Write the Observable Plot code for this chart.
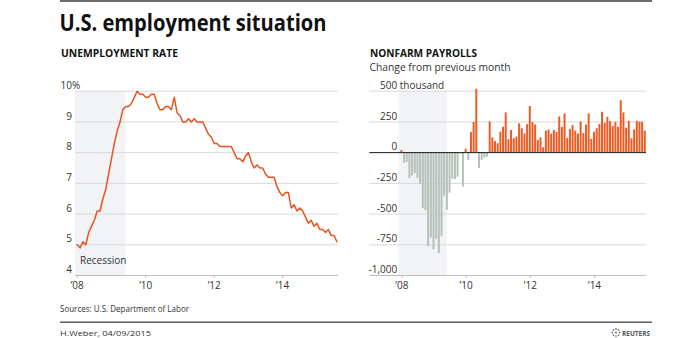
<!DOCTYPE html>
<html><head><meta charset="utf-8">
<script src="https://cdn.jsdelivr.net/npm/d3@7"></script>
<script src="https://cdn.jsdelivr.net/npm/@observablehq/plot@0.6"></script>
<style>
html,body{margin:0;padding:0;background:#fff;}
#root{position:relative;width:692px;height:338px;overflow:hidden;font-family:"Open Sans","Noto Sans",sans-serif;}
#root svg{position:absolute;top:0;}
</style></head><body><div id="root"></div>
<script>
// ---- data ----
const startYear = 2008; // series begin January 2008, monthly
const unemploymentRate = [
  5.0, 4.9, 5.1, 5.0, 5.4, 5.6, 5.8, 6.1, 6.1, 6.5, 6.8, 7.3,
  7.8, 8.3, 8.7, 9.0, 9.4, 9.5, 9.5, 9.6, 9.8, 10.0, 9.9, 9.9,
  9.8, 9.8, 9.9, 9.9, 9.6, 9.4, 9.4, 9.5, 9.5, 9.4, 9.8, 9.3,
  9.2, 9.0, 9.0, 9.1, 9.0, 9.1, 9.0, 9.0, 9.0, 8.8, 8.6, 8.5,
  8.3, 8.3, 8.2, 8.2, 8.2, 8.2, 8.2, 8.0, 7.8, 7.8, 7.7, 7.9,
  8.0, 7.7, 7.5, 7.6, 7.5, 7.5, 7.3, 7.2, 7.2, 7.2, 6.9, 6.7,
  6.6, 6.7, 6.7, 6.2, 6.3, 6.1, 6.2, 6.1, 5.9, 5.7, 5.8, 5.6,
  5.7, 5.5, 5.5, 5.4, 5.5, 5.3, 5.3, 5.1
];
const payrollChange = [
  17, -86, -80, -210, -190, -170, -210, -260, -455, -475, -765, -695,
  -790, -705, -820, -685, -355, -470, -330, -215, -220, -200, -10, -280,
  28, -65, 163, 245, 515, -130, -62, -45, -38, 250, 120, 90,
  73, 167, 207, 323, 105, 180, 113, 126, 234, 194, 153, 228,
  375, 245, 225, 100, 120, 40, 175, 185, 150, 180, 165, 290,
  205, 315, 115, 190, 220, 175, 150, 250, 155, 225, 315, 108,
  167, 194, 228, 328, 239, 288, 253, 212, 247, 207, 422, 323,
  199, 255, 113, 185, 255, 247, 247, 175
];
const recession = [{start: 2007 + 11/12, end: 2009 + 5/12}]; // Dec 2007 - Jun 2009
const rateTicks = [4, 5, 6, 7, 8, 9, 10];
const rateTickLabels = ["4", "5", "6", "7", "8", "9", "10"];
const payrollTicks = [-1000, -750, -500, -250, 0, 250, 500];
const payrollTickLabels = ["-1,000", "-750", "-500", "-250", "0", "250", "500"];
const yearTicks = [2008, 2010, 2012, 2014];
const yearLabels = ["\u201908", "\u201910", "\u201912", "\u201914"];

// ---- styles ----
const FONT = "'Open Sans','Noto Sans',sans-serif";
const ORANGE = "#ee5a23";
const LINE = "#e8531f";
const GRAYBAR = "#b5c0b9";
const SHADE = "#f1f3f6";
const GRID = "#d9d9d9";
const AXIS = "#bcbcbc";
const TXT = "#333";

const rateData = unemploymentRate.map((v, i) => ({t: startYear + i / 12, v}));
const payData = payrollChange.map((v, i) => ({t: startYear + i / 12, v}));
const fmtYear = d => yearLabels[yearTicks.indexOf(d)];

const root = document.getElementById("root");

// Left: unemployment rate
const left = Plot.plot({
  width: 345, height: 300,
  marginLeft: 75, marginRight: 7, marginTop: 90.7, marginBottom: 25,
  x: {domain: [2007.95, 2015.63], axis: null},
  y: {domain: [4, 10], axis: null},
  style: {background: "transparent", fontFamily: FONT, fontSize: "10px", overflow: "visible"},
  marks: [
    Plot.rect(recession, {x1: "start", x2: "end", y1: 4, y2: 10, fill: SHADE, clip: true}),
    Plot.ruleY(rateTicks.filter(d => d > 4), {stroke: GRID}),
    Plot.ruleY([4], {stroke: AXIS}),
    Plot.axisX({ticks: yearTicks, tickFormat: fmtYear, tickSize: 3, tickPadding: 3, stroke: AXIS, fill: TXT, fontSize: 10, label: null}),
    Plot.text(rateTicks, {y: d => d, text: (d, i) => rateTickLabels[i], frameAnchor: "left", textAnchor: "end", dx: -3.5, dy: -5.5, fill: TXT, fontSize: 10}),
    Plot.text([10], {y: d => d, text: () => "%", frameAnchor: "left", textAnchor: "start", dx: -3.5, dy: -5.5, fill: TXT, fontSize: 10}),
    Plot.text(["Recession"], {y: 4, text: d => d, frameAnchor: "left", textAnchor: "start", dx: 4.5, dy: -15, fill: TXT, fontSize: 10}),
    Plot.line(rateData, {x: "t", y: "v", stroke: LINE, strokeWidth: 1.5})
  ]
});
left.style.left = "0px";
root.appendChild(left);

// Right: nonfarm payrolls
const right = Plot.plot({
  width: 347, height: 300,
  marginLeft: 24.3, marginRight: 46, marginTop: 90.7, marginBottom: 25,
  x: {domain: [2007.0, 2015.62], axis: null},
  y: {domain: [-1000, 500], axis: null},
  style: {background: "transparent", fontFamily: FONT, fontSize: "10px", overflow: "visible"},
  marks: [
    Plot.rect(recession, {x1: "start", x2: "end", y1: -1000, y2: 500, fill: SHADE}),
    Plot.ruleY(payrollTicks.filter(d => d !== 0 && d !== -1000), {stroke: GRID}),
    Plot.ruleY([-1000], {stroke: AXIS}),
    Plot.rect(payData.filter(d => d.v < 0), {x1: d => d.t - 1/24, x2: d => d.t + 1/24, y1: 0, y2: "v", fill: GRAYBAR, insetLeft: 0.35, insetRight: 0.35}),
    Plot.rect(payData.filter(d => d.v >= 0), {x1: d => d.t - 1/24, x2: d => d.t + 1/24, y1: 0, y2: "v", fill: ORANGE, insetLeft: 0.35, insetRight: 0.35}),
    Plot.ruleY([0], {stroke: "#1a1a1a"}),
    Plot.axisX({ticks: yearTicks, tickFormat: fmtYear, tickSize: 3, tickPadding: 3, stroke: AXIS, fill: TXT, fontSize: 10, label: null}),
    Plot.text(payrollTicks, {y: d => d, text: (d, i) => payrollTickLabels[i], frameAnchor: "left", textAnchor: "end", dx: 27.4, dy: -5.5, fill: TXT, fontSize: 10}),
    Plot.text([500], {y: d => d, text: () => "thousand", frameAnchor: "left", textAnchor: "start", dx: 30, dy: -5.5, fill: TXT, fontSize: 10})
  ]
});
right.style.left = "345px";
root.appendChild(right);

// Overlay: titles, notes, rules
const ov = d3.select(root).append("svg")
  .attr("width", 692).attr("height", 338)
  .style("left", "0px").style("font-family", FONT);
ov.append("rect").attr("x", 60).attr("y", 0).attr("width", 592).attr("height", 2).attr("fill", "#6b6b6b");
function label(x, y, s, size, weight, w, fill) {
  const t = ov.append("text").attr("x", x).attr("y", y).text(s)
    .attr("font-size", size).attr("font-weight", weight).attr("fill", fill || "#111");
  if (w) t.attr("textLength", w).attr("lengthAdjust", "spacingAndGlyphs");
  return t;
}
label(59.5, 31, "U.S. employment situation", 23, 700, 267, "#111");
label(61, 57, "UNEMPLOYMENT RATE", 10, 700, 117, "#111");
label(370, 56.5, "NONFARM PAYROLLS", 10, 700, 107, "#111");
label(369.5, 71, "Change from previous month", 10.5, 400, 141, "#333");
label(60, 312, "Sources:  U.S. Department of Labor", 9, 400, 129, "#333");
ov.append("rect").attr("x", 60).attr("y", 321.5).attr("width", 592).attr("height", 1.3).attr("fill", "#444");
label(60, 336, "H.Weber, 04/09/2015", 7, 400, 91, "#333");
// Reuters mark
const lg = ov.append("g").attr("transform", "translate(616,332.5)");
d3.range(8).forEach(k => {
  const a = k * Math.PI / 4;
  lg.append("circle").attr("cx", 3.6 * Math.cos(a)).attr("cy", 3.6 * Math.sin(a)).attr("r", 0.9).attr("fill", "#777");
});
lg.append("circle").attr("r", 1.1).attr("fill", "#777");
label(622, 336, "REUTERS", 7, 700, 28, "#555");
</script></body></html>
